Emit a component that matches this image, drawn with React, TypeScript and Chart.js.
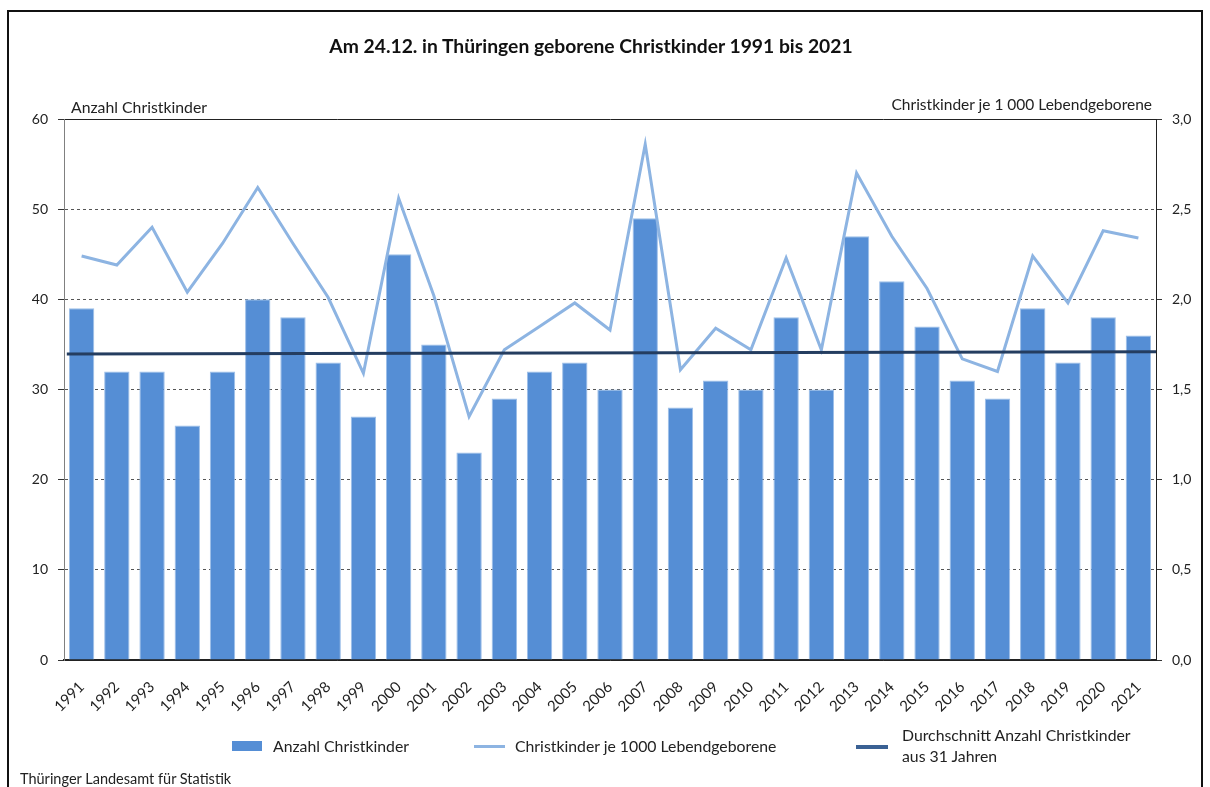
import React, { useEffect, useRef } from "react";
import { Chart, registerables } from "chart.js";

Chart.register(...registerables);

const years = [
  "1991", "1992", "1993", "1994", "1995", "1996", "1997", "1998", "1999", "2000",
  "2001", "2002", "2003", "2004", "2005", "2006", "2007", "2008", "2009", "2010",
  "2011", "2012", "2013", "2014", "2015", "2016", "2017", "2018", "2019", "2020", "2021",
];

const christkinder = [
  39, 32, 32, 26, 32, 40, 38, 33, 27, 45,
  35, 23, 29, 32, 33, 30, 49, 28, 31, 30,
  38, 30, 47, 42, 37, 31, 29, 39, 33, 38, 36,
];

const jeTausend = [
  2.24, 2.19, 2.40, 2.04, 2.31, 2.62, 2.31, 2.01, 1.59, 2.56,
  2.02, 1.35, 1.72, 1.85, 1.98, 1.83, 2.86, 1.61, 1.84, 1.72,
  2.23, 1.72, 2.70, 2.35, 2.06, 1.67, 1.60, 2.24, 1.98, 2.38, 2.34,
];

// average line: start and end level
const averagePositions = [-0.42, 30.5];
const averageValues = [33.95, 34.2];

const leftTicks = [0, 10, 20, 30, 40, 50, 60];
const rightTicks = ["0,0", "0,5", "1,0", "1,5", "2,0", "2,5", "3,0"];

const FONT = "Lato, 'Open Sans', sans-serif";

export default function App() {
  const canvasRef = useRef<HTMLCanvasElement | null>(null);

  useEffect(() => {
    if (!canvasRef.current) return;
    const chart = new Chart(canvasRef.current, {
      type: "bar",
      data: {
        labels: years,
        datasets: [
          {
            type: "line",
            label: "Durchschnitt Anzahl Christkinder aus 31 Jahren",
            data: averagePositions.map((x, i) => ({ x, y: averageValues[i] })),
            xAxisID: "xAvg",
            yAxisID: "y",
            borderColor: "#243d60",
            borderWidth: 3,
            pointRadius: 0,
            tension: 0,
            order: 1,
          } as any,
          {
            type: "line",
            label: "Christkinder je 1000 Lebendgeborene",
            data: jeTausend,
            xAxisID: "x",
            yAxisID: "y1",
            borderColor: "#8db4e2",
            borderWidth: 3,
            pointRadius: 0,
            tension: 0,
            order: 2,
          } as any,
          {
            type: "bar",
            label: "Anzahl Christkinder",
            data: christkinder,
            xAxisID: "x",
            yAxisID: "y",
            backgroundColor: "#558ed5",
            borderColor: "#9dbfe9",
            borderWidth: { top: 1, left: 1, right: 1, bottom: 0 },
            grouped: false,
            barPercentage: 0.72,
            categoryPercentage: 1,
            order: 3,
          } as any,
        ],
      },
      options: {
        animation: false,
        responsive: false,
        maintainAspectRatio: false,
        layout: { padding: { top: 119, left: 0, right: 0, bottom: 0 } },
        plugins: {
          legend: { display: false },
          title: { display: false },
          tooltip: { enabled: false },
        },
        scales: {
          x: {
            type: "category",
            offset: true,
            grid: { display: false },
            border: { display: true, color: "#222", width: 1.5 },
            ticks: {
              minRotation: 45,
              maxRotation: 45,
              autoSkip: false,
              padding: 10,
              color: "#222",
              font: { family: FONT, size: 15 },
            },
            afterFit: (s: any) => {
              s.height = 127;
            },
          },
          xAvg: {
            type: "linear",
            display: false,
            offset: false,
            bounds: "ticks",
            min: -0.5,
            max: 30.5,
            grace: 0,
          },
          y: {
            position: "left",
            min: 0,
            max: 60,
            afterBuildTicks: (s: any) => {
              s.ticks = leftTicks.map((v) => ({ value: v }));
            },
            ticks: {
              color: "#222",
              padding: 10,
              font: { family: FONT, size: 14 },
            },
            grid: {
              color: (c: any) => (c.tick && (c.tick.value === 60 || c.tick.value === 0) ? "#222" : "#555"),
              lineWidth: 1,
              tickLength: 6,
              tickColor: "#333",
            },
            border: {
              display: true,
              color: "#808080",
              width: 1,
              dash: (c: any) => (c.tick && (c.tick.value === 60 || c.tick.value === 0) ? [] : [3, 3]),
            },
            afterFit: (s: any) => {
              s.width = 64;
            },
          },
          y1: {
            position: "right",
            min: 0,
            max: 3,
            afterBuildTicks: (s: any) => {
              s.ticks = rightTicks.map((_, i) => ({ value: i * 0.5 }));
            },
            ticks: {
              color: "#222",
              padding: 10,
              font: { family: FONT, size: 14 },
              callback: (_v: any, i: number) => rightTicks[i],
            },
            grid: {
              drawOnChartArea: false,
              tickLength: 6,
              color: "#333",
            },
            border: { display: true, color: "#222", width: 1 },
            afterFit: (s: any) => {
              s.width = 54;
            },
          },
        },
      },
    });
    return () => chart.destroy();
  }, []);

  const text: React.CSSProperties = {
    position: "absolute",
    fontFamily: FONT,
    color: "#222",
    whiteSpace: "nowrap",
  };

  return (
    <div
      style={{
        position: "fixed",
        left: 0,
        top: 0,
        width: 1210,
        height: 787,
        overflow: "hidden",
        background: "#fff",
      }}
    >
      <div
        style={{
          position: "absolute",
          left: 7,
          top: 10,
          width: 1196,
          height: 800,
          border: "2px solid #111",
          boxSizing: "border-box",
        }}
      />
      <canvas
        ref={canvasRef}
        width={1210}
        height={787}
        style={{ position: "absolute", left: 0, top: 0, width: 1210, height: 787 }}
      />
      <div
        style={{
          ...text,
          left: 0,
          width: 1182,
          top: 34,
          lineHeight: "24px",
          textAlign: "center",
          fontSize: 19.3,
          fontWeight: 700,
          color: "#111",
        }}
      >
        Am 24.12. in Thüringen geborene Christkinder 1991 bis 2021
      </div>
      <div style={{ ...text, left: 71, top: 97, fontSize: 15.8, lineHeight: "20px" }}>
        Anzahl Christkinder
      </div>
      <div
        style={{
          ...text,
          right: 1210 - 1152,
          top: 94,
          fontSize: 15.5,
          lineHeight: "20px",
          textAlign: "right",
        }}
      >
        Christkinder je 1 000 Lebendgeborene
      </div>

      {/* legend */}
      <div style={{ position: "absolute", left: 232, top: 741, width: 30, height: 10, background: "#558ed5" }} />
      <div style={{ ...text, left: 273, top: 736, fontSize: 15.8, lineHeight: "20px" }}>Anzahl Christkinder</div>
      <div style={{ position: "absolute", left: 474, top: 745, width: 31, height: 3, background: "#8db4e2" }} />
      <div style={{ ...text, left: 515, top: 736, fontSize: 15.8, lineHeight: "20px" }}>
        Christkinder je 1000 Lebendgeborene
      </div>
      <div style={{ position: "absolute", left: 856, top: 745, width: 32, height: 4, background: "#3a6194" }} />
      <div style={{ ...text, left: 902, top: 724, fontSize: 15.8, lineHeight: "21px" }}>
        Durchschnitt Anzahl Christkinder
        <br />
        aus 31 Jahren
      </div>

      <div style={{ ...text, left: 20, top: 770, fontSize: 14.5, lineHeight: "18px" }}>
        Thüringer Landesamt für Statistik
      </div>
    </div>
  );
}
